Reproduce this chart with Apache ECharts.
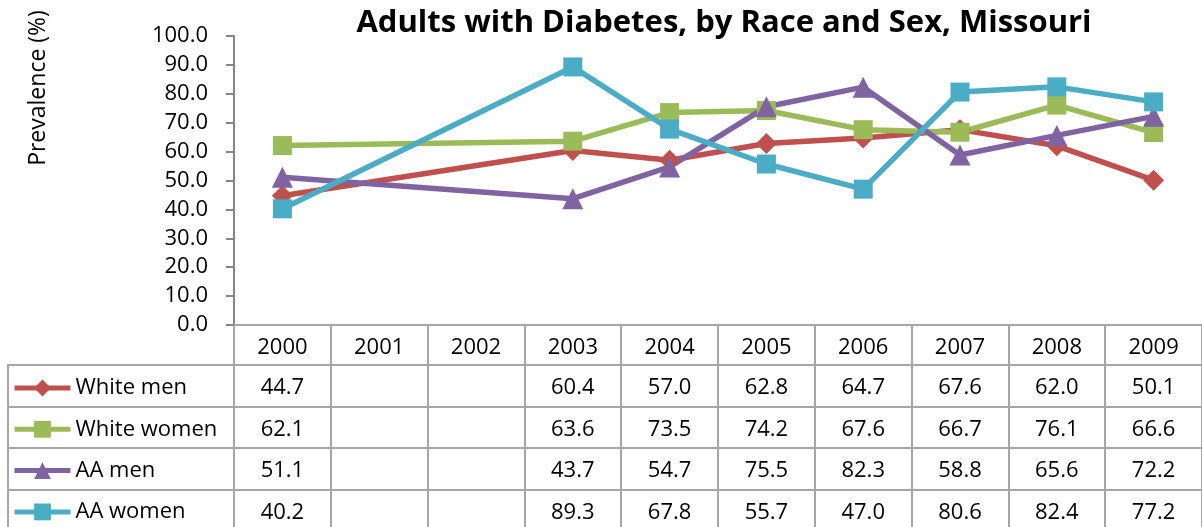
<!DOCTYPE html>
<html>
<head>
<meta charset="utf-8">
<script src="https://cdn.jsdelivr.net/npm/echarts@6/dist/echarts.min.js"></script>
<style>
    html, body { margin: 0; padding: 0; background: #fff; }
    #chart { width: 1202px; height: 527px; }
</style>
</head>
<body>
<div id="chart"></div>
<script>
    // categories and values (null = no survey value)
    var years = ['2000', '2001', '2002', '2003', '2004', '2005', '2006', '2007', '2008', '2009']
    var whiteMen = [44.7, null, null, 60.4, 57.0, 62.8, 64.7, 67.6, 62.0, 50.1]
    var whiteWomen = [62.1, null, null, 63.6, 73.5, 74.2, 67.6, 66.7, 76.1, 66.6]
    var aaMen = [51.1, null, null, 43.7, 54.7, 75.5, 82.3, 58.8, 65.6, 72.2]
    var aaWomen = [40.2, null, null, 89.3, 67.8, 55.7, 47.0, 80.6, 82.4, 77.2]
    var yTicks = [0, 10, 20, 30, 40, 50, 60, 70, 80, 90, 100]

    var seriesList = [
        {name: 'White men', data: whiteMen, color: '#C0504D', symbol: 'diamond', size: 21},
        {name: 'White women', data: whiteWomen, color: '#9BBB59', symbol: 'rect', size: 19},
        {name: 'AA men', data: aaMen, color: '#8064A2', symbol: 'triangle', size: 21},
        {name: 'AA women', data: aaWomen, color: '#4BACC6', symbol: 'rect', size: 19}
    ]

    var FONT = '"Open Sans", "Liberation Sans", sans-serif'
    var GRAY = '#A6A6A6'
    var ROW = 41.5

    // data table rows: one x axis per row, stacked under the plot
    function rowAxis(labels, offset) {
        return {
            type: 'category',
            gridIndex: 0,
            position: 'bottom',
            offset: offset,
            data: labels,
            axisLine: {show: true, onZero: false, lineStyle: {color: GRAY, width: 2}},
            axisTick: {show: true, length: ROW, interval: 0, lineStyle: {color: GRAY, width: 2}},
            axisLabel: {interval: 0, margin: 12, color: '#000', fontSize: 22, fontFamily: FONT}
        }
    }

    // left column frame (legend cells)
    function leftAxis(offset) {
        return {
            type: 'category',
            gridIndex: 1,
            position: 'bottom',
            offset: offset,
            data: [''],
            axisLine: {show: true, onZero: false, lineStyle: {color: GRAY, width: 2}},
            axisTick: {show: true, length: ROW, interval: 0, lineStyle: {color: GRAY, width: 2}},
            axisLabel: {show: false}
        }
    }

    var fmt = function (v) { return v == null ? '' : v.toFixed(1) }

    var xAxes = [rowAxis(years, 0)]
    seriesList.forEach(function (s, i) {
        xAxes.push(rowAxis(s.data.map(fmt), Math.round(40 + i * ROW)))
    })
    seriesList.forEach(function (s, i) {
        xAxes.push(leftAxis(Math.round(40 + i * ROW)))
    })

    var chart = echarts.init(document.getElementById('chart'))
    chart.setOption({
        animation: false,
        textStyle: {fontFamily: FONT},
        title: {
            text: 'Adults with Diabetes, by Race and Sex, Missouri',
            left: 719,
            textAlign: 'center',
            top: 3,
            textStyle: {fontSize: 31, fontWeight: 'bold', color: '#000', fontFamily: FONT}
        },
        legend: {
            orient: 'vertical',
            left: 12,
            top: 377,
            height: 300,
            padding: 0,
            itemWidth: 56,
            itemHeight: 21,
            itemGap: 19.3,
            lineStyle: {width: 5},
            data: seriesList.map(function (s) { return s.name }),
            textStyle: {fontSize: 22, lineHeight: 20, color: '#000', fontFamily: FONT}
        },
        graphic: [{
            type: 'text',
            x: 38,
            y: 88,
            rotation: Math.PI / 2,
            style: {
                text: 'Prevalence (%)',
                fill: '#000',
                font: '23px "Open Sans", sans-serif',
                align: 'center',
                verticalAlign: 'middle'
            }
        }],
        grid: [
            {left: 234, top: 36, width: 970, height: 289},
            {left: 8, top: 36, width: 226, height: 289}
        ],
        xAxis: xAxes,
        yAxis: [
            {
                type: 'value',
                gridIndex: 0,
                min: yTicks[0],
                max: yTicks[yTicks.length - 1],
                interval: 10,
                splitLine: {show: false},
                axisLine: {show: true, lineStyle: {color: '#868686', width: 2}},
                axisTick: {show: true, length: 8, lineStyle: {color: '#868686', width: 2}},
                axisLabel: {
                    color: '#000', fontSize: 22, fontFamily: FONT, margin: 26,
                    formatter: function (v) { return v.toFixed(1) }
                }
            },
            {type: 'value', gridIndex: 1, min: 0, max: 1, show: false}
        ],
        series: seriesList.map(function (s) {
            return {
                name: s.name,
                type: 'line',
                xAxisIndex: 0,
                yAxisIndex: 0,
                data: s.data,
                connectNulls: true,
                symbol: s.symbol,
                symbolSize: s.size,
                color: s.color,
                lineStyle: {width: 5.5, color: s.color},
                itemStyle: {color: s.color}
            }
        })
    })
</script>
</body>
</html>
